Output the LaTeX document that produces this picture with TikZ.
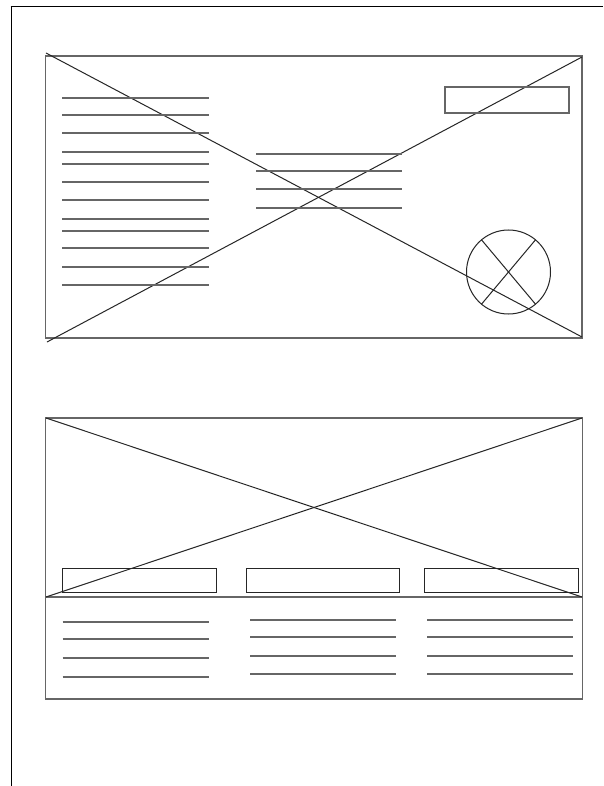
\documentclass[tikz,border=0pt]{standalone}
\usetikzlibrary{calc}
\begin{document}
\begin{tikzpicture}[x=1pt,y=-1pt,
  frame/.style={draw=black,line width=1pt},
  box/.style={draw=black!60,line width=1.2pt},
  cross/.style={draw=black!85,line width=1pt},
  txt/.style={draw=black!60,line width=1.3pt}]
\useasboundingbox (0,0) rectangle (603,786);
\fill[white] (0,0) rectangle (603,786);
% page frame
\draw[frame] (10.5,7) -- (603,7);
\draw[frame] (11,7) -- (11,786);
% ---- top panel ----
\draw[box] (45.5,56) rectangle (582,338);
\draw[cross] (46,53) -- (582,337);
\draw[cross] (47,342) -- (582,57);
\foreach \y in {98,115,133,152,164,182,200,219,231,248,267,285}
  \draw[txt] (62,\y) -- (209,\y);
\foreach \y in {154,171,189,208}
  \draw[txt] (256,\y) -- (402,\y);
\draw[box] (445,87) rectangle (569,113);
\coordinate (c) at (508.5,272);
\draw[cross] (c) circle (42);
\draw[cross] ($(c)+(130:42)$) -- ($(c)+(-50:42)$);
\draw[cross] ($(c)+(50:42)$) -- ($(c)+(230:42)$);
% ---- bottom panel ----
\draw[box] (45.5,418) rectangle (582.5,699);
\draw[box] (45.5,597) -- (582.5,597);
\draw[cross] (46,418) -- (582,597);
\draw[cross] (46,597) -- (582,418);
\draw[cross] (62,568.5) rectangle (216,592);
\draw[cross] (246,568.5) rectangle (399.5,592);
\draw[cross] (424.5,568.5) rectangle (578,592);
\foreach \y in {622,639,658,677}
  \draw[txt] (62.5,\y) -- (209,\y);
\foreach \y in {620,637,656,674}
  \draw[txt] (250,\y) -- (396,\y);
\foreach \y in {620,637,656,674}
  \draw[txt] (427,\y) -- (573,\y);
\end{tikzpicture}
\end{document}
